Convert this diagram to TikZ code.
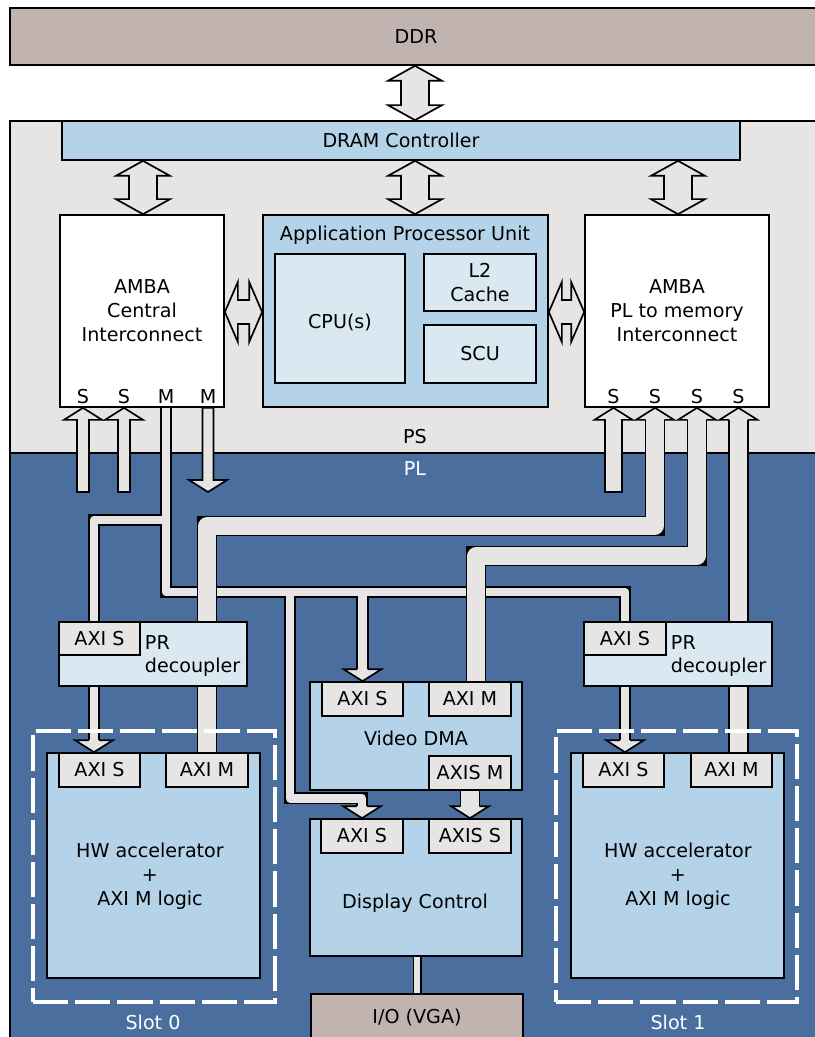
\documentclass[tikz,border=0pt]{standalone}
\usepackage{fontspec}
\setmainfont{DejaVu Sans}
\usetikzlibrary{calc, fit, math}

\definecolor{ddrbrown}{RGB}{193,179,175}
\definecolor{psgray}{RGB}{230,229,228}
\definecolor{plblue}{RGB}{74,110,158}
\definecolor{boxblue}{RGB}{180,211,232}
\definecolor{subblue}{RGB}{218,232,242}

\pgfdeclarelayer{bg}
\pgfdeclarelayer{pipes}
\pgfsetlayers{bg,pipes,main}

\tikzset{
  box/.style={draw, line width=1.2pt, inner sep=0pt},
  blk/.style={box, fill=boxblue},
  sub/.style={box, fill=subblue},
  port/.style={box, fill=psgray},
  arrowbody/.style={draw, line width=1.2pt, fill=psgray, line join=miter},
  ctrl pipe/.style={draw=psgray, line width=6.2pt, line join=round,
    preaction={draw=black, line width=8.6pt}},
  data pipe/.style={draw=psgray, line width=12.2pt, line join=round,
    preaction={draw=black, line width=14.6pt}},
  io pipe/.style={draw=psgray, line width=4pt,
    preaction={draw=black, line width=6.4pt}},
  slot/.style={draw=white, line width=3.2pt, dash pattern=on 25pt off 5pt, inner sep=0pt},
}

% double headed arrows, vertical (x, upper node, lower node) and horizontal (y, left, right)
\newcommand{\vbiarrow}[3]{%
  \filldraw[arrowbody] let \p1=(#1,0 |- #2.south), \p2=(#1,0 |- #3.north) in
    (\p1) -- ++(27,15) -- ++(-13,0) -- ($(\p2)+(14,-15)$) -- ++(13,0) -- (\p2)
    -- ++(-27,-15) -- ++(13,0) -- ($(\p1)+(-14,15)$) -- ++(-13,0) -- cycle;}
\newcommand{\hbiarrow}[3]{%
  \filldraw[arrowbody] let \p1=(#2.east |- 0,#1), \p2=(#3.west |- 0,#1) in
    (\p1) -- ++(13,-30) -- ++(0,18) -- ($(\p2)+(-13,-12)$) -- ++(0,-18) -- (\p2)
    -- ++(-13,30) -- ++(0,-18) -- ($(\p1)+(13,12)$) -- ++(0,18) -- cycle;}
% single arrows with a closed tail (tail, tip, half shaft)
\newcommand{\arrowup}[3]{%
  \filldraw[arrowbody] let \p1=(#1), \p2=(#2) in
    ($(\p1)+(-#3,0)$) -- ($(\p2)+(-#3,\headl)$) -- ++(#3-\headw,0) -- (\p2)
    -- ++(\headw,\headl) -- ++(#3-\headw,0) -- ($(\p1)+(#3,0)$) -- cycle;}
\newcommand{\arrowdown}[3]{%
  \filldraw[arrowbody] let \p1=(#1), \p2=(#2) in
    ($(\p1)+(-#3,0)$) -- ($(\p2)+(-#3,-\headl)$) -- ++(#3-\headw,0) -- (\p2)
    -- ++(\headw,-\headl) -- ++(#3-\headw,0) -- ($(\p1)+(#3,0)$) -- cycle;}
% open heads sitting on the end of a pipe (tip, half shaft)
\newcommand{\headup}[2]{%
  \filldraw[arrowbody] let \p1=(#1) in
    ($(\p1)+(-#2,\headl)$) -- ++(#2-\headw,0) -- (\p1) -- ++(\headw,\headl) -- ++(#2-\headw,0);}
\newcommand{\headdown}[2]{%
  \filldraw[arrowbody] let \p1=(#1) in
    ($(\p1)+(-#2,-\headl)$) -- ++(#2-\headw,0) -- (\p1) -- ++(\headw,-\headl) -- ++(#2-\headw,0);}

\begin{document}
\begin{tikzpicture}[x=0.025cm, y=-0.025cm, font=\fontsize{13.6}{17}\selectfont]
\tikzmath{
\headw=19;
\headl=12;
}
\useasboundingbox (0,0) rectangle (814,1037);

\begin{pgfonlayer}{bg}
\fill[psgray] (10,121) rectangle (830,453);
\fill[plblue] (10,453) rectangle (830,1045);
\draw[line width=1.2pt] (830,121) -- (10,121) -- (10,1045) (10,453) -- (830,453);
\end{pgfonlayer}

\node[box, fill=ddrbrown, fit={(10,8) (822,65)}, label=center:DDR] (ddr) {};
\node (pslbl) at (415,437) {PS};
\node[white] (pllbl) at (415,469) {PL};

% processing system
\node[blk, fit={(62,121) (740,160)}, label=center:DRAM Controller] (dram) {};
\node[box, fill=white, fit={(60,215) (224,407)},
  label={[align=center]center:AMBA\\Central\\Interconnect}] (cim) {};
\node[blk, fit={(263,215) (548,407)}] (apu) {};
\node (aputitle) at (405,235) {Application Processor Unit};
\node[sub, fit={(275,254) (405,383)}, label={[yshift=-3pt]center:CPU(s)}] (cpu) {};
\node[sub, fit={(424,254) (536,311)}, label={[align=center]center:L2\\Cache}] (l2) {};
\node[sub, fit={(424,325) (536,383)}, label=center:SCU] (scu) {};
\node[box, fill=white, fit={(585,215) (769,407)},
  label={[align=center]center:AMBA\\PL to memory\\Interconnect}] (pmi) {};

\foreach \n/\x/\t in {cS1/83/S, cS2/124/S, cM1/166/M, cM2/208/M}
  \node (\n) at (\x,397) {\t};
\foreach \n/\x in {pS1/613.5, pS2/655, pS3/697, pS4/738.5}
  \node (\n) at (\x,397) {S};

% programmable logic
\node[sub, fit={(59,622) (247,686)}] (decL) {};
\node[port, fit={(59,622) (140,655)}, label=center:AXI S] (decLs) {};
\node[anchor=west, align=left] (decLtxt) at (140,656) {PR\\decoupler};
\node[sub, fit={(584,622) (772,686)}] (decR) {};
\node[port, fit={(584,622) (666,655)}, label=center:AXI S] (decRs) {};
\node[anchor=west, align=left] (decRtxt) at (666,656) {PR\\decoupler};

\node[blk, fit={(310,682) (522,790)}, label={[yshift=-2pt]center:Video DMA}] (dma) {};
\node[port, fit={(322,682) (403,716)}, label=center:AXI S] (dmaS) {};
\node[port, fit={(429,682) (511,716)}, label=center:AXI M] (dmaM) {};
\node[port, fit={(429,756) (511,790)}, label=center:AXIS M] (dmaSM) {};

\node[blk, fit={(310,819) (522,956)}] (disp) {};
\node (disptxt) at (415,903) {Display Control};
\node[port, fit={(321,819) (403,853)}, label=center:AXI S] (dispS) {};
\node[port, fit={(429,819) (511,853)}, label=center:AXIS S] (dispSS) {};
\node[box, fill=ddrbrown, fit={(311,994) (523,1040)}, label=center:I/O (VGA)] (io) {};

\node[blk, fit={(47,753) (260,978)}] (accL) {};
\node[align=center] (accLtxt) at (150,876) {HW accelerator\\+\\AXI M logic};
\node[port, fit={(59,753) (140,787)}, label=center:AXI S] (accLs) {};
\node[port, fit={(166,753) (248,787)}, label=center:AXI M] (accLm) {};
\node[blk, fit={(571,753) (784,978)}] (accR) {};
\node[align=center] (accRtxt) at (678,876) {HW accelerator\\+\\AXI M logic};
\node[port, fit={(583,753) (664,787)}, label=center:AXI S] (accRs) {};
\node[port, fit={(691,753) (772,787)}, label=center:AXI M] (accRm) {};

\node[slot, fit={(33,731) (275,1002)}] (slot0) {};
\node[white] (slot0lbl) at (153,1022) {Slot 0};
\node[slot, fit={(556,731) (797,1002)}] (slot1) {};
\node[white] (slot1lbl) at (678,1022) {Slot 1};

\begin{pgfonlayer}{pipes}
\vbiarrow{415}{ddr}{dram}
\vbiarrow{143}{dram}{cim}
\vbiarrow{415}{dram}{apu}
\vbiarrow{678}{dram}{pmi}
\hbiarrow{312}{cim}{apu}
\hbiarrow{312}{apu}{pmi}

\arrowup{cS1 |- 0,492}{cS1 |- cim.south}{6}
\arrowup{cS2 |- 0,492}{cS2 |- cim.south}{6}
\arrowdown{cM2 |- cim.south}{cM2 |- 0,492}{5.5}
\arrowup{pS1 |- 0,492}{pS1 |- pmi.south}{8.5}

% AXI lite master bus
\draw[ctrl pipe]
  (cM1 |- cim.south) |- (decRs.north |- 0,592) -- (decRs.north)
  (cM1 |- 0,520) -| (94,0 |- decLs.north)
  (dmaS.north |- 0,592) -- ($(dmaS.north)+(0,-12)$)
  (290,592) |- ($(dispS.north)+(0,-20)$) -- ($(dispS.north)+(0,-12)$)
  (94,0 |- decL.south) -- ($(94,0 |- accLs.north)+(0,-12)$)
  (decRs.north |- decR.south) -- ($(decRs.north |- accRs.north)+(0,-12)$);

% data paths to memory
\draw[data pipe]
  (accLm.north) |- (pS2 |- 0,526) -- ($(pS2 |- pmi.south)+(0,12)$)
  (476,0 |- dmaM.north) |- (pS3 |- 0,556) -- ($(pS3 |- pmi.south)+(0,12)$)
  (pS4 |- accRm.north) -- ($(pS4 |- pmi.south)+(0,12)$)
  (dmaSM.south) -- ($(dispSS.north)+(0,-12)$);
\draw[io pipe] (417,0 |- disp.south) -- (417,0 |- io.north);

\headup{pS2 |- pmi.south}{9.4}
\headup{pS3 |- pmi.south}{9.4}
\headup{pS4 |- pmi.south}{9.4}
\headdown{dispSS.north}{9.4}
\headdown{dmaS.north}{5.2}
\headdown{dispS.north}{5.2}
\headdown{94,0 |- accLs.north}{5.2}
\headdown{decRs.north |- accRs.north}{5.2}
\end{pgfonlayer}

\end{tikzpicture}
\end{document}
